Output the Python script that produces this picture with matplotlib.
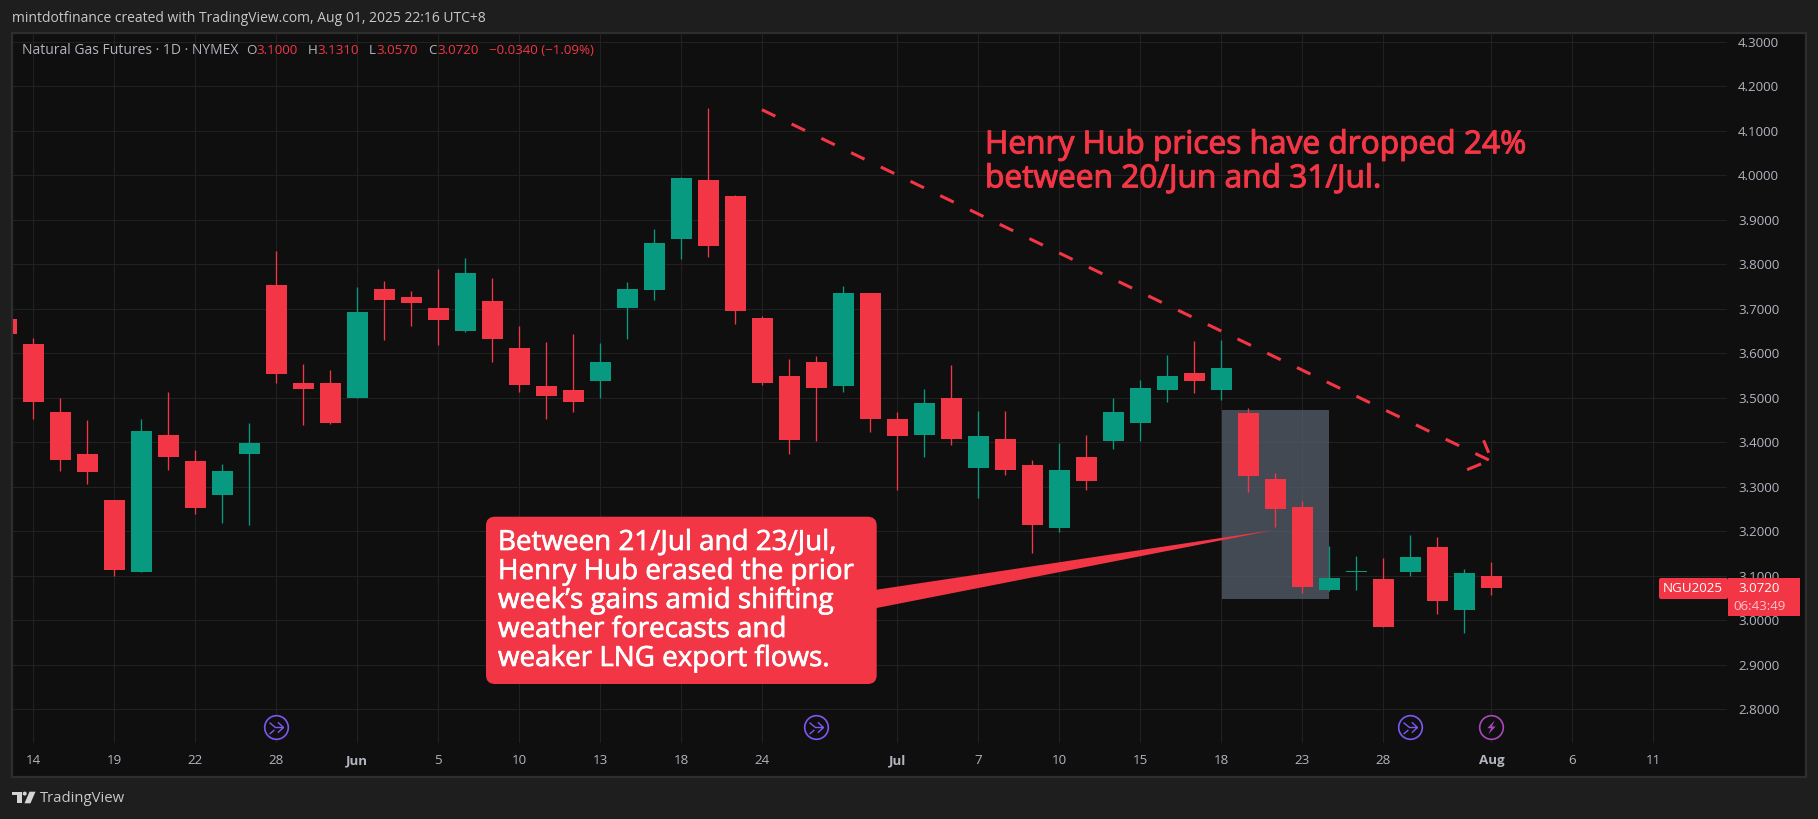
#!/usr/bin/env python3
"""Natural gas futures daily candles, TradingView dark layout."""

import matplotlib
matplotlib.use("Agg")
import matplotlib.pyplot as plt
import matplotlib.patheffects as pe
from matplotlib.patches import FancyBboxPatch, Polygon, Rectangle, Circle
from matplotlib.path import Path
from matplotlib.transforms import Affine2D

W, H = 1818, 819

RED = "#F23645"
GREEN = "#089981"
PANEL = "#0F0F0F"
OUTER = "#1E1E1E"
GRID = "#212121"
TEXT = "#B2B5BE"
FONT = "Open Sans"
SMALL = 9.6

# bar -1 is the one cut off by the left edge
bars = list(range(-1, 55))
opens = [3.676, 3.620, 3.467, 3.373, 3.270, 3.107, 3.415, 3.357, 3.281, 3.373,
         3.754, 3.533, 3.533, 3.498, 3.745, 3.727, 3.701, 3.649, 3.716, 3.612,
         3.525, 3.518, 3.538, 3.701, 3.741, 3.857, 3.988, 3.952, 3.678, 3.549,
         3.580, 3.527, 3.734, 3.453, 3.415, 3.500, 3.342, 3.406, 3.348, 3.207,
         3.366, 3.402, 3.444, 3.516, 3.556, 3.518, 3.466, 3.318, 3.255, 3.068,
         3.109, 3.093, 3.109, 3.165, 3.023, 3.100]
closes = [3.643, 3.489, 3.359, 3.333, 3.112, 3.426, 3.366, 3.252, 3.335, 3.397,
          3.554, 3.520, 3.444, 3.692, 3.719, 3.712, 3.674, 3.781, 3.632, 3.529,
          3.504, 3.489, 3.580, 3.745, 3.848, 3.993, 3.841, 3.695, 3.533, 3.404,
          3.522, 3.736, 3.453, 3.413, 3.487, 3.406, 3.413, 3.337, 3.214, 3.337,
          3.313, 3.467, 3.522, 3.549, 3.538, 3.567, 3.324, 3.250, 3.075, 3.095,
          3.110, 2.985, 3.142, 3.043, 3.106, 3.072]
highs = [3.676, 3.634, 3.498, 3.449, 3.270, 3.453, 3.513, 3.382, 3.351, 3.444,
         3.830, 3.576, 3.562, 3.748, 3.761, 3.739, 3.790, 3.814, 3.768, 3.661,
         3.625, 3.643, 3.623, 3.759, 3.879, 3.995, 4.150, 3.955, 3.683, 3.587,
         3.594, 3.750, 3.736, 3.467, 3.520, 3.574, 3.471, 3.469, 3.359, 3.397,
         3.417, 3.498, 3.540, 3.596, 3.627, 3.630, 3.477, 3.331, 3.268, 3.167,
         3.145, 3.140, 3.192, 3.187, 3.115, 3.131]
lows = [3.643, 3.453, 3.335, 3.306, 3.099, 3.107, 3.337, 3.239, 3.219, 3.214,
        3.533, 3.438, 3.440, 3.498, 3.629, 3.661, 3.618, 3.647, 3.580, 3.513,
        3.453, 3.467, 3.498, 3.632, 3.719, 3.812, 3.817, 3.666, 3.529, 3.373,
        3.402, 3.513, 3.422, 3.293, 3.366, 3.393, 3.275, 3.326, 3.150, 3.197,
        3.293, 3.384, 3.402, 3.491, 3.511, 3.495, 3.288, 3.210, 3.061, 3.066,
        3.068, 2.985, 3.100, 3.014, 2.972, 3.057]

tick_bars = [0, 3, 6, 9, 12, 15, 18, 21, 24, 27, 32, 35, 38, 41, 44, 47, 50, 54, 57, 60]
tick_labels = ["14", "19", "22", "28", "Jun", "5", "10", "13", "18", "24",
               "Jul", "7", "10", "15", "18", "23", "28", "Aug", "6", "11"]
month_labels = ["Jun", "Jul", "Aug"]
price_ticks = [2.8, 2.9, 3.0, 3.1, 3.2, 3.3, 3.4, 3.5, 3.6, 3.7, 3.8, 3.9, 4.0, 4.1, 4.2, 4.3]

trend_bars = [26.98, 53.93]
trend_prices = [4.147, 3.359]
head_bars = [[53.71, 53.90], [53.10, 53.62]]
head_prices = [[3.404, 3.376], [3.338, 3.351]]

box_bars = [44.02, 47.98]
box_prices = [3.048, 3.473]

split_bars = [9, 29, 51]
earnings_bars = [54]
event_price = 2.759

note_lines = ["Henry Hub prices have dropped 24%", "between 20/Jun and 31/Jul."]
callout_lines = ["Between 21/Jul and 23/Jul,", "Henry Hub erased the prior",
                 "week\u2019s gains amid shifting", "weather forecasts and",
                 "weaker LNG export flows."]
legend_parts = [(21.7, "Natural Gas Futures \u00b7 1D \u00b7 NYMEX", TEXT, 10),
                (246, "O", TEXT, SMALL), (256, "3.1000", RED, SMALL),
                (307.6, "H", TEXT, SMALL), (317.5, "3.1310", RED, SMALL),
                (369, "L", TEXT, SMALL), (376.4, "3.0570", RED, SMALL),
                (428, "C", TEXT, SMALL), (437, "3.0720", RED, SMALL),
                (489, "\u22120.0340 (\u22121.09%)", RED, SMALL)]


def main():
    fig = plt.figure(figsize=(W / 100, H / 100), dpi=100, facecolor=OUTER)
    px = Affine2D().scale(1, -1).translate(0, H)

    fig.add_artist(Rectangle((12, 33), 1794, 744, transform=px, facecolor=PANEL,
                             edgecolor="#2E2E2E", linewidth=1.6, zorder=-1))

    # one bar = 27 px, 0.1 in price = 44.5 px
    ax = fig.add_axes([12.5 / W, 1 - 743 / H, (1727 - 12.5) / W, (743 - 33) / H])
    ax.set_facecolor("none")
    ax.set_xlim((12.5 - 33.4) / 27, (1727 - 33.4) / 27)
    ax.set_ylim(3 + (620.1 - 743) / 445, 3 + (620.1 - 33) / 445)
    for spine in ax.spines.values():
        spine.set_visible(False)

    ax.set_xticks(tick_bars)
    ax.set_xticklabels(tick_labels, fontfamily=FONT, fontsize=SMALL, color=TEXT)
    for label in ax.get_xticklabels():
        if label.get_text() in month_labels:
            label.set_fontweight("bold")
    ax.yaxis.tick_right()
    ax.set_yticks(price_ticks)
    ax.set_yticklabels([f"{p:.4f}" for p in price_ticks], fontfamily=FONT, fontsize=SMALL, color=TEXT)
    ax.tick_params(axis="x", length=0, pad=8)
    ax.tick_params(axis="y", length=0, pad=8)
    ax.grid(True, color=GRID, linewidth=0.75, zorder=0)
    ax.set_axisbelow(True)

    colors = [GREEN if c >= o else RED for o, c in zip(opens, closes)]
    ax.add_patch(Rectangle((box_bars[0], box_prices[0]), box_bars[1] - box_bars[0],
                           box_prices[1] - box_prices[0], facecolor="#5A6472", alpha=0.7,
                           linewidth=0, zorder=2))
    ax.vlines(bars, lows, highs, colors=colors, linewidth=0.95, zorder=3)
    tops = [max(o, c) for o, c in zip(opens, closes)]
    bottoms = [min(o, c) for o, c in zip(opens, closes)]
    heights = [max(t - b, 0.002) for t, b in zip(tops, bottoms)]
    ax.bar(bars, heights, bottom=bottoms, width=0.78, color=colors, linewidth=0, zorder=3)

    ax.plot(trend_bars, trend_prices, color=RED, linewidth=2.2, zorder=4,
            linestyle=(0, (4.9, 5.9)), dash_capstyle="butt")
    for hx, hy in zip(head_bars, head_prices):
        ax.plot(hx, hy, color=RED, linewidth=2.2, zorder=4, solid_capstyle="butt")

    # event badges under the candles
    arrow = Path([(-1, 0.7), (-0.15, 0), (1, 0), (0.2, 0.75), (1, 0), (0.2, -0.75),
                  (-1, -0.95), (-0.3, -0.35)],
                 [Path.MOVETO, Path.LINETO, Path.LINETO, Path.LINETO, Path.MOVETO,
                  Path.LINETO, Path.MOVETO, Path.LINETO])
    bolt = Path([(0.45, 1), (-0.6, -0.1), (-0.05, -0.1), (-0.45, -1), (0.6, 0.15),
                 (0.05, 0.15), (0.45, 1)], closed=True)
    ax.plot(split_bars, [event_price] * len(split_bars), linestyle="none", marker="o",
            markersize=17, markerfacecolor=PANEL, markeredgecolor="#7E57F5",
            markeredgewidth=1.2, zorder=5)
    ax.plot(split_bars, [event_price] * len(split_bars), linestyle="none", marker=arrow,
            markersize=10, markerfacecolor="none", markeredgecolor="#7E57F5",
            markeredgewidth=1.0, zorder=6)
    ax.plot(earnings_bars, [event_price] * len(earnings_bars), linestyle="none", marker="o",
            markersize=17, markerfacecolor=PANEL, markeredgecolor="#AB47BC",
            markeredgewidth=1.2, zorder=5)
    ax.plot(earnings_bars, [event_price] * len(earnings_bars), linestyle="none", marker=bolt,
            markersize=10, markerfacecolor="#AB47BC", markeredgecolor="none", zorder=6)

    # callout box and tail
    fig.add_artist(Polygon([(870, 590.7), (1274, 530), (870, 609.3)], transform=px,
                           facecolor=RED, edgecolor="none", zorder=7))
    fig.add_artist(FancyBboxPatch((494, 524.7), 374.7, 151.3,
                                  boxstyle="round,pad=8,rounding_size=9", transform=px,
                                  facecolor=RED, edgecolor="none", zorder=7))
    for n, line in enumerate(callout_lines):
        t = fig.text(498, 550 + 29 * n, line, transform=px, color="white", fontfamily=FONT,
                     fontsize=20, va="baseline", zorder=8)
        t.set_path_effects([pe.withStroke(linewidth=0.5, foreground="white")])
    for n, line in enumerate(note_lines):
        t = fig.text(985, 153.3 + 34 * n, line, transform=px, color=RED, fontfamily=FONT,
                     fontsize=22.8, va="baseline", zorder=8)
        t.set_path_effects([pe.withStroke(linewidth=0.8, foreground=RED)])

    # header and legend
    fig.text(12, 18, "mintdotfinance created with TradingView.com, Aug 01, 2025 22:16 UTC+8",
             transform=px, color="#C8C8C8", fontfamily=FONT, fontsize=10, va="center")
    for x, part, col, size in legend_parts:
        fig.text(x, 51, part, transform=px, color=col, fontfamily=FONT, fontsize=size, va="center")

    # last price tags
    fig.add_artist(FancyBboxPatch((1661, 580), 65, 17, boxstyle="round,pad=2,rounding_size=2",
                                  transform=px, facecolor=RED, edgecolor="none", zorder=7))
    fig.add_artist(Rectangle((1728, 578), 72, 38, transform=px, facecolor=RED,
                             edgecolor="none", zorder=7))
    fig.text(1693, 589, "NGU2025", transform=px, color="white", fontfamily=FONT, fontsize=SMALL,
             ha="center", va="center", zorder=8)
    fig.text(1738, 589, "3.0720", transform=px, color="white", fontfamily=FONT, fontsize=SMALL,
             va="center", zorder=8)
    fig.text(1733, 606, "06:43:49", transform=px, color="#FBC6CB", fontfamily=FONT, fontsize=SMALL,
             va="center", zorder=8)

    # TradingView logo
    logo = "#D4D4D4"
    fig.add_artist(Polygon([(12.3, 791.7), (21.5, 791.7), (21.5, 803.3), (17, 803.3),
                            (17, 795), (12.3, 795)], transform=px, facecolor=logo, edgecolor="none"))
    fig.add_artist(Circle((24.7, 793.6), 2, transform=px, facecolor=logo, edgecolor="none"))
    fig.add_artist(Polygon([(29.5, 791.7), (35.5, 791.7), (30.5, 803.3), (24.5, 803.3)],
                           transform=px, facecolor=logo, edgecolor="none"))
    fig.text(40, 798.5, "TradingView", transform=px, color="#C8C8C8", fontfamily=FONT,
             fontsize=10.7, va="center")

    fig.savefig("out.png", dpi=100, facecolor=OUTER)


if __name__ == "__main__":
    main()
